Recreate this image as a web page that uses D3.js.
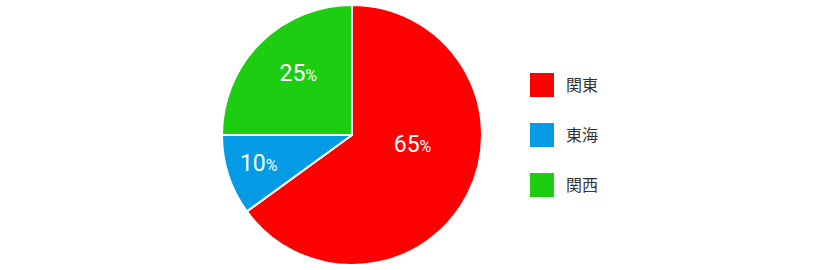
<!DOCTYPE html>
<meta charset="utf-8">
<style>
  body { margin: 0; background: #fff; }
  .legend text { font: 16px "Noto Sans CJK JP", sans-serif; fill: #333; }
  .pct { font-family: Roboto, sans-serif; fill: #fff; }
</style>
<svg width="820" height="270"></svg>
<script src="https://d3js.org/d3.v7.min.js"></script>
<script>
var regions = ["関東", "東海", "関西"];
var shares = [65, 10, 25];
var colors = ["#ff0000", "#039be5", "#1ccd12"];

var svg = d3.select("svg"),
    cx = 352, cy = 135, radius = 130;

var z = d3.scaleOrdinal().domain(regions).range(colors);

var data = regions.map(function(r, i) { return {name: r, value: shares[i]}; });

var pie = d3.pie().sort(null).value(d => d.value);
var arc = d3.arc().innerRadius(0).outerRadius(radius);

var g = svg.append("g").attr("transform", "translate(" + cx + "," + cy + ")");

var arcs = pie(data);

g.selectAll("path")
  .data(arcs)
  .enter().append("path")
    .attr("d", arc)
    .attr("fill", d => z(d.data.name))
    .attr("stroke", "#fff")
    .attr("stroke-width", 2)
    .attr("stroke-linejoin", "round");

// label placement: radius fraction + angle nudge per slice
var labelPos = {"関東": {r: 0.47, da: -0.33}, "東海": {r: 0.75, da: 0.02}, "関西": {r: 0.63, da: 0.07}};

var labels = g.selectAll("text.pct")
  .data(arcs)
  .enter().append("text")
    .attr("class", "pct")
    .attr("text-anchor", "middle")
    .attr("transform", function(d) {
      var p = labelPos[d.data.name];
      var a = (d.startAngle + d.endAngle) / 2 + p.da;
      var rr = radius * p.r;
      return "translate(" + (Math.sin(a) * rr) + "," + (-Math.cos(a) * rr + 8) + ")";
    });
labels.append("tspan").attr("font-size", 23).text(d => d.data.value);
labels.append("tspan").attr("font-size", 16).text("%");

var legend = svg.append("g").attr("class", "legend")
  .selectAll("g")
  .data(regions)
  .enter().append("g")
    .attr("transform", (d, i) => "translate(530," + (73 + i * 50) + ")");
legend.append("rect")
    .attr("width", 24)
    .attr("height", 24)
    .attr("fill", z);
legend.append("text")
    .attr("x", 36)
    .attr("y", 12)
    .attr("dy", "0.35em")
    .text(d => d);
</script>
